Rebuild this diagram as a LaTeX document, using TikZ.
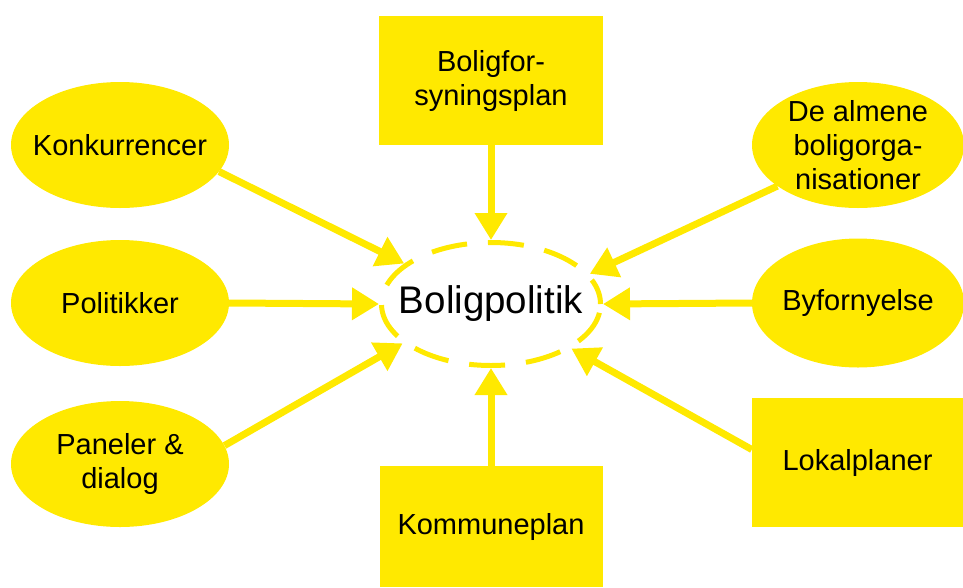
\documentclass[tikz,border=0pt]{standalone}
\usepackage{fontspec}
\setmainfont{Liberation Sans}
\usetikzlibrary{shapes.geometric,arrows.meta}
\definecolor{ylw}{HTML}{FFE900}
\begin{document}
\begin{tikzpicture}[x=1pt,y=-1pt,
  txt/.style={font=\fontsize{29}{34}\selectfont, align=center, text=black},
  oval/.style={ellipse, fill=ylw, inner sep=0pt, minimum width=218pt, minimum height=126pt},
  box/.style={txt, rectangle, fill=ylw, inner sep=0pt},
  arr/.style={draw=ylw, line width=7pt, -{Triangle[length=27pt,width=31pt]}}
]
\useasboundingbox (0,0) rectangle (963,587);
% centre
\node[ellipse, draw=ylw, line width=5pt, dash pattern=on 36pt off 21pt, dash phase=10pt,
      minimum width=219pt, minimum height=123pt, inner sep=0pt,
      label={[font=\fontsize{38.5}{44}\selectfont, text=black]center:Boligpolitik}] (bp) at (491,304) {};
% left ovals
\node[oval, label={[txt]center:Konkurrencer}] (konk) at (120,145) {};
\node[oval, label={[txt]center:Politikker}] (pol) at (120,303) {};
\node[oval, label={[txt]center:{Paneler \&\\dialog}}] (pan) at (120,464) {};
% right ovals
\node[oval, minimum width=212pt, label={[txt]center:{De almene\\boligorga-\\nisationer}}] (alm) at (858,145) {};
\node[oval, minimum width=212pt, minimum height=129pt, label={[txt]center:Byfornyelse}] (byf) at (858,303) {};
% boxes
\node[box, minimum width=224pt, minimum height=129pt] (bfp) at (491,80.5) {Boligfor-\\syningsplan};
\node[box, minimum width=223pt, minimum height=121pt] (kom) at (491,526.5) {Kommuneplan};
\node[box, minimum width=211pt, minimum height=129pt] (lok) at (857.5,462.5) {Lokalplaner};
% arrows
\draw[arr] (konk.-15.6) -- (bp.155);
\draw[arr] (pol.east) -- (bp.west);
\draw[arr] (pan.10.4) -- (bp.204.8);
\draw[arr] (bfp.south) -- (bp.north);
\draw[arr] (kom.north) -- (bp.south);
\draw[arr] (alm.207.1) -- (bp.17.9);
\draw[arr] (byf.west) -- (bp.east);
\draw[arr] (lok.173.2) -- (bp.-29.7);
\end{tikzpicture}
\end{document}
